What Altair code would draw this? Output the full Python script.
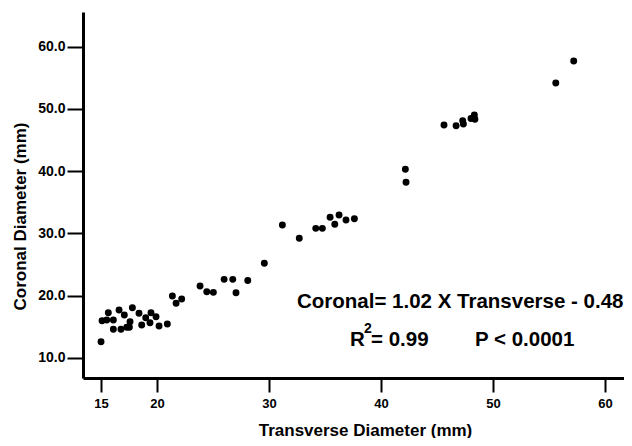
import altair as alt
import pandas as pd

transverse = [15.01, 15.10, 15.52, 15.66, 16.11, 16.11, 16.62, 16.79, 17.09, 17.31,
              17.54, 17.60, 17.81, 18.40, 18.64, 19.00, 19.47, 19.38, 19.92, 20.19,
              20.93, 21.38, 21.71, 22.21, 23.85, 24.45, 25.04, 26.00, 26.77, 27.06,
              28.11, 29.59, 31.20, 32.71, 34.18, 34.77, 35.46, 35.88, 36.26, 36.88,
              37.63, 42.18, 42.24, 45.63, 46.71, 47.30, 47.36, 48.04, 48.34, 48.39,
              55.61, 57.21]
coronal = [12.57, 15.95, 16.06, 17.23, 16.06, 14.57, 17.67, 14.57, 16.86, 14.89,
           14.89, 15.79, 18.04, 17.14, 15.26, 16.43, 17.23, 15.63, 16.59, 15.10,
           15.42, 19.92, 18.75, 19.44, 21.53, 20.61, 20.51, 22.60, 22.60, 20.45,
           22.41, 25.18, 31.33, 29.20, 30.80, 30.80, 32.57, 31.45, 32.94, 32.14,
           32.35, 40.29, 38.20, 47.41, 47.30, 48.10, 47.57, 48.46, 49.02, 48.33,
           54.16, 57.70]
x_ticks = [15, 20, 30, 40, 50, 60]
y_ticks = [10, 20, 30, 40, 50, 60]

FONT = "Liberation Sans"
df = pd.DataFrame({"t": transverse, "c": coronal})

points = alt.Chart(df).mark_circle(size=48, color="black", opacity=1).encode(
    x=alt.X("t:Q", scale=alt.Scale(domain=[13.4, 61.7], nice=False, zero=False),
            axis=alt.Axis(values=x_ticks, title="Transverse Diameter (mm)",
                          titleX=282, titleY=52, titleBaseline="middle")),
    y=alt.Y("c:Q", scale=alt.Scale(domain=[6.74, 65.58], nice=False, zero=False),
            axis=alt.Axis(values=y_ticks, format=".1f", title="Coronal Diameter (mm)",
                          titleX=-63, titleY=204, titleBaseline="middle",
                          titleAlign="center")),
)

ann = pd.DataFrame({"d": [0]})

def txt(s, x, y, size=20.5):
    return alt.Chart(ann).mark_text(text=s, font=FONT, fontWeight="bold", fontSize=size,
                                    align="left", baseline="alphabetic", color="black").encode(
        x=alt.value(x), y=alt.value(y))

layers = [
    points,
    txt("Coronal= 1.02 X Transverse - 0.48", 214, 296),
    txt("R", 267, 334),
    txt("2", 281, 321, 14),
    txt("= 0.99", 288, 334),
    txt("P < 0.0001", 392, 334),
]

chart = alt.layer(*layers).properties(
    width=541, height=366, autosize="none",
    padding={"left": 75, "top": 4, "right": 0, "bottom": 60},
).configure_view(stroke=None).configure_axis(
    grid=False, domainColor="black", domainWidth=3, tickColor="black", tickWidth=2,
    labelFont=FONT, labelFontWeight="bold", labelColor="black",
    titleFont=FONT, titleFontWeight="bold", titleFontSize=17, titleColor="black",
).configure_axisY(tickSize=16, labelPadding=2, labelFontSize=14).configure_axisX(
    tickSize=14, labelPadding=5, labelFontSize=13)

chart.save("out.html", embed_options={"renderer": "svg", "actions": False})
